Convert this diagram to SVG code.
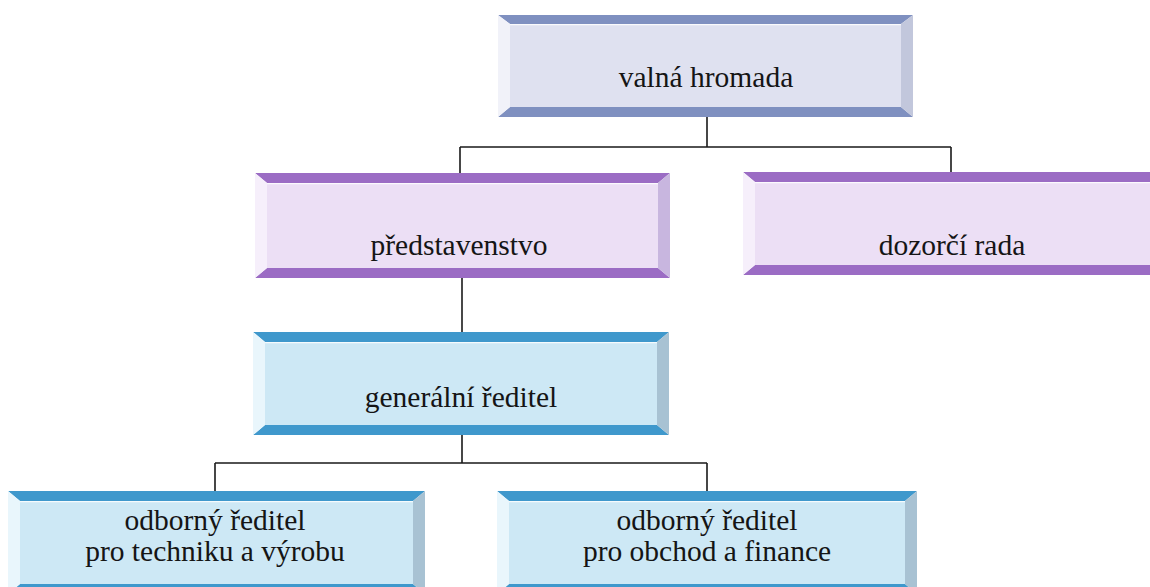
<svg xmlns="http://www.w3.org/2000/svg" width="1150" height="587" viewBox="0 0 1150 587">
<style>
  .conn { stroke: #1a1a1a; stroke-width: 1.6; fill: none; }
  .g-band { fill: #7f90c0; } .g-face { fill: #dfe1f0; } .g-left { fill: #f1f2f9; } .g-right { fill: #c2c7dc; }
  .p-band { fill: #9b6cc4; } .p-face { fill: #ecdff5; } .p-left { fill: #f6effb; } .p-right { fill: #c8b6df; }
  .b-band { fill: #3f98cc; } .b-face { fill: #cde8f5; } .b-left { fill: #e9f6fc; } .b-right { fill: #a8c2d3; }
  .hl { stroke: #ffffff; stroke-opacity: 0.8; stroke-width: 1.2; }
</style>
<rect width="1150" height="587" fill="#ffffff"/>

<g id="connectors">
  <path class="conn" d="M707 117 V147 M460 147 H951 M460 147 V173 M951 147 V172"/>
  <path class="conn" d="M462 278 V332"/>
  <path class="conn" d="M462 435 V463 M215 463 H707 M215 463 V491 M707 463 V491"/>
</g>

<g font-family="Liberation Serif, Times New Roman, Tinos, DejaVu Serif, serif" font-size="29.5" fill="#151515" text-anchor="middle">
<g id="valna-hromada">
  <rect class="g-face" x="510" y="24" width="391" height="84"/>
  <polygon class="g-band" points="498,15 913,15 901,24 510,24"/>
  <polygon class="g-band" points="498,117 913,117 901,107 510,107"/>
  <polygon class="g-left" points="498,15 510,24 510,107 498,117"/>
  <polygon class="g-right" points="913,15 901,24 901,107 913,117"/>
  <line class="hl" x1="510" y1="24.6" x2="901" y2="24.6"/>
  <text x="706" y="87">valná hromada</text>
</g>

<g id="predstavenstvo">
  <rect class="p-face" x="267" y="183" width="391" height="85"/>
  <polygon class="p-band" points="255,173 670,173 658,183 267,183"/>
  <polygon class="p-band" points="255,278 670,278 658,268 267,268"/>
  <polygon class="p-left" points="255,173 267,183 267,268 255,278"/>
  <polygon class="p-right" points="670,173 658,183 658,268 670,278"/>
  <line class="hl" x1="267" y1="183.6" x2="658" y2="183.6"/>
  <text x="459" y="255">představenstvo</text>
</g>

<g id="dozorci-rada">
  <rect class="p-face" x="755" y="182" width="396" height="83"/>
  <polygon class="p-band" points="743,172 1163,172 1151,182 755,182"/>
  <polygon class="p-band" points="743,275 1163,275 1151,265 755,265"/>
  <polygon class="p-left" points="743,172 755,182 755,265 743,275"/>
  <line class="hl" x1="755" y1="182.6" x2="1151" y2="182.6"/>
  <text x="952" y="255">dozorčí rada</text>
</g>

<g id="generalni-reditel">
  <rect class="b-face" x="265" y="342" width="392" height="83"/>
  <polygon class="b-band" points="253,332 669,332 657,342 265,342"/>
  <polygon class="b-band" points="253,435 669,435 657,425 265,425"/>
  <polygon class="b-left" points="253,332 265,342 265,425 253,435"/>
  <polygon class="b-right" points="669,332 657,342 657,425 669,435"/>
  <line class="hl" x1="265" y1="342.6" x2="657" y2="342.6"/>
  <text x="461" y="407">generální ředitel</text>
</g>

<g id="odborny-technika">
  <rect class="b-face" x="20" y="501" width="393" height="83"/>
  <polygon class="b-band" points="8,491 425,491 413,501 20,501"/>
  <polygon class="b-band" points="8,594 425,594 413,584 20,584"/>
  <polygon class="b-left" points="8,491 20,501 20,584 8,594"/>
  <polygon class="b-right" points="425,491 413,501 413,584 425,594"/>
  <line class="hl" x1="20" y1="501.6" x2="413" y2="501.6"/>
  <text x="215" y="530">odborný ředitel</text>
  <text x="215" y="561">pro techniku a výrobu</text>
</g>

<g id="odborny-obchod">
  <rect class="b-face" x="509" y="501" width="396" height="83"/>
  <polygon class="b-band" points="497,491 917,491 905,501 509,501"/>
  <polygon class="b-band" points="497,594 917,594 905,584 509,584"/>
  <polygon class="b-left" points="497,491 509,501 509,584 497,594"/>
  <polygon class="b-right" points="917,491 905,501 905,584 917,594"/>
  <line class="hl" x1="509" y1="501.6" x2="905" y2="501.6"/>
  <text x="707" y="530">odborný ředitel</text>
  <text x="707" y="561">pro obchod a finance</text>
</g>
</g>
</svg>
